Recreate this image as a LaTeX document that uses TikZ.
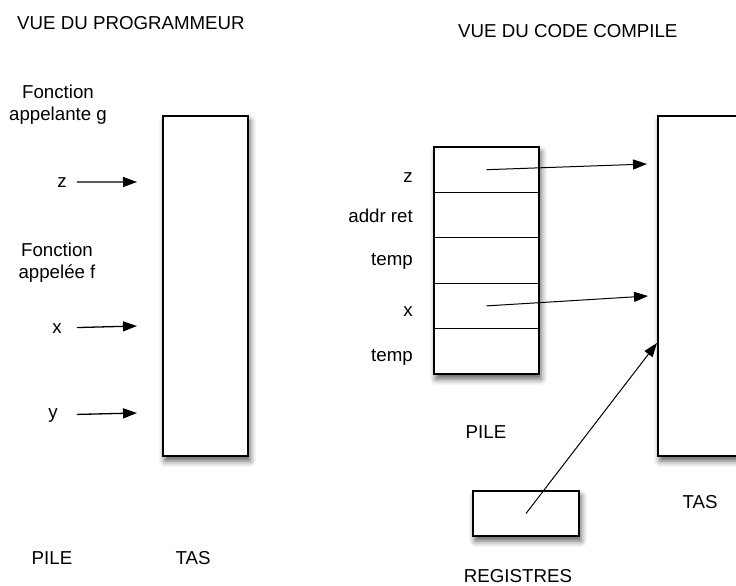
\documentclass[tikz,border=0pt]{standalone}
\usepackage{fontspec}
\setmainfont{Liberation Sans}
\usetikzlibrary{positioning,arrows.meta,shadows.blur}

\begin{document}
\begin{tikzpicture}[x=1pt, y=-1pt, font=\fontsize{18.7}{21.5}\selectfont,
    box/.style = {draw, line width=1.3pt, fill=white, inner sep=0, outer sep=0,
      blur shadow={shadow xshift=2pt, shadow yshift=-5pt, shadow blur radius=6pt, shadow opacity=65}},
    cell/.style = {draw, line width=1.3pt, inner sep=0, outer sep=0, minimum width=105pt, minimum height=45.4pt},
    txt/.style = {inner sep=0},
    ptr/.style = {line width=1.3pt, -{Triangle[length=14pt,width=10pt]}},
    fin/.style = {line width=1pt, -{Triangle[length=14pt,width=10pt]}}]
  \useasboundingbox (0,0) rectangle (736,586);

  % vue du programmeur
  \node[txt, anchor=base west] (titreA) at (17,30) {VUE DU PROGRAMMEUR};
  \node[box, minimum width=85pt, minimum height=340pt] (tasA) at (205.5,286) {};
  \node[txt, anchor=north, align=center] (g) at (58,85) {Fonction\\appelante g};
  \node[txt, anchor=north, align=center] (f) at (57,243) {Fonction\\appelée f};
  \node[txt, anchor=base] (z) at (62,187) {z};
  \node[txt, anchor=base] (x) at (57,333) {x};
  \node[txt, anchor=base] (y) at (53,418) {y};
  \coordinate (pz) at (137,182);
  \coordinate (px) at (137,326);
  \coordinate (py) at (137,413);
  \draw[ptr, shorten <=10pt] (z) -- (pz);
  \draw[ptr, shorten <=15pt] (x) -- (px);
  \draw[ptr, shorten <=19pt] (y) -- (py);
  \node[txt, anchor=base] (pileA) at (52,564) {PILE};
  \node[txt, anchor=base] (tasAl) at (193,564) {TAS};

  % vue du code compile
  \node[txt, anchor=base west] (titreB) at (458,38) {VUE DU CODE COMPILE};
  \node[box, minimum width=105pt, minimum height=227pt, anchor=north] (pile) at (486.5,147) {};
  \node[cell, anchor=north] (cz) at (pile.north) {};
  \node[cell, below=0pt of cz] (cret) {};
  \node[cell, below=0pt of cret] (ctmpA) {};
  \node[cell, below=0pt of ctmpA] (cx) {};
  \node[cell, below=0pt of cx] (ctmpB) {};
  \node[txt, anchor=base east] (lz) at (413,182) {z};
  \node[txt, anchor=base east] (lret) at (413,222) {addr ret};
  \node[txt, anchor=base east] (ltmpA) at (413,265) {temp};
  \node[txt, anchor=base east] (lx) at (413,316) {x};
  \node[txt, anchor=base east] (ltmpB) at (413,361) {temp};
  \node[txt, anchor=base] (pileB) at (486,438) {PILE};

  \node[box, minimum width=110pt, minimum height=340pt, anchor=north west] (tasB) at (658,116) {};
  \node[txt, anchor=base] (tasBl) at (700,508) {TAS};
  \node[box, minimum width=106pt, minimum height=45pt] (reg) at (526,513.5) {};
  \node[txt, anchor=base] (regl) at (518,582.5) {REGISTRES};

  \coordinate (hz) at (647,164);
  \coordinate (hx) at (648,296);
  \coordinate (hr) at (657,343);
  \draw[fin] (cz.center) -- (hz);
  \draw[fin] (cx.center) -- (hx);
  \draw[fin] (reg.center) -- (hr);
\end{tikzpicture}
\end{document}
